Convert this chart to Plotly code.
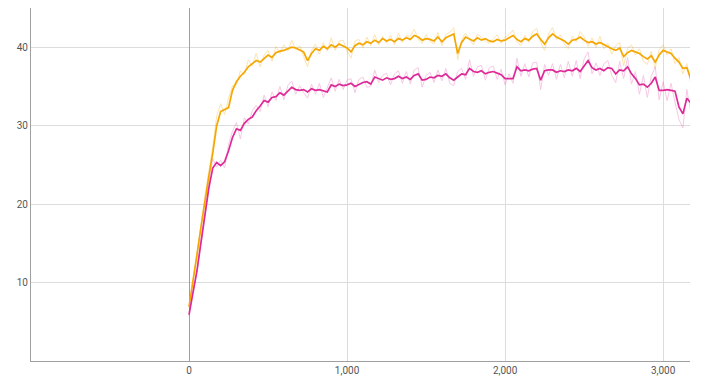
import plotly.graph_objects as go

steps = list(range(0, 3200, 25))

orange_smooth = [
    6.9, 10.0, 13.5, 17.0, 20.5, 23.5, 26.5, 30.0, 31.8, 32.0,
    32.3, 34.5, 35.6, 36.3, 36.8, 37.5, 37.9, 38.3, 38.1, 38.6,
    39.0, 38.7, 39.3, 39.5, 39.6, 39.8, 40.0, 39.9, 39.6, 39.4,
    38.3, 39.2, 39.8, 39.6, 40.1, 39.8, 40.3, 40.0, 40.4, 40.2,
    39.9, 39.4, 40.2, 40.5, 40.3, 40.7, 40.5, 40.9, 40.6, 41.1,
    40.8, 41.0, 40.7, 41.1, 40.9, 41.2, 41.0, 41.5, 41.3, 40.9,
    41.1, 41.0, 40.8, 41.3, 40.7, 41.2, 41.4, 41.7, 39.2, 40.6,
    41.3, 41.1, 40.8, 41.2, 40.9, 41.1, 40.8, 40.7, 41.0, 40.8,
    40.9, 41.2, 41.5, 41.0, 40.7, 41.1, 40.9, 41.4, 41.7, 41.0,
    40.4, 41.2, 41.7, 41.3, 41.1, 40.8, 40.4, 40.9, 41.0, 41.3,
    40.9, 40.6, 40.7, 40.4, 40.6, 40.3, 40.0, 39.8, 39.6, 39.9,
    38.8, 39.3, 39.6, 39.4, 39.2, 38.8, 38.5, 38.9, 38.1, 39.0,
    39.6, 39.4, 39.2, 38.6, 38.1, 37.3, 37.4, 36.0,
]

orange_raw = [
    7.0, 10.3, 13.9, 17.2, 21.0, 24.1, 27.3, 31.2, 32.8, 31.4,
    33.5, 35.1, 35.2, 37.0, 36.5, 38.4, 37.6, 39.2, 37.5, 39.0,
    39.6, 38.2, 40.1, 39.2, 40.3, 39.5, 40.9, 39.7, 40.2, 38.8,
    37.5, 39.6, 40.4, 39.1, 40.6, 39.5, 41.2, 39.6, 40.8, 40.9,
    39.5, 38.6, 40.8, 41.0, 39.9, 41.3, 40.2, 41.6, 40.3, 41.4,
    40.5, 41.5, 40.3, 41.8, 40.6, 41.5, 41.4, 42.3, 41.0, 40.5,
    41.6, 40.7, 40.4, 41.9, 40.2, 41.6, 41.9, 42.5, 38.4, 41.0,
    41.8, 40.9, 40.3, 41.7, 41.2, 40.8, 40.5, 41.1, 41.6, 40.5,
    41.3, 41.6, 42.2, 40.7, 40.2, 41.5, 40.6, 42.0, 42.4, 40.6,
    39.6, 41.7, 42.5, 41.0, 41.6, 40.4, 39.8, 41.4, 40.7, 42.0,
    41.3, 40.1, 41.2, 40.0, 41.4, 39.8, 40.5, 39.1, 40.2, 40.6,
    37.6, 39.9, 40.3, 39.0, 39.8, 38.2, 37.8, 39.5, 37.3, 39.7,
    40.3, 39.0, 39.8, 37.9, 38.7, 36.6, 37.9, 35.3,
]

magenta_smooth = [
    5.9, 8.5, 11.5, 15.0, 18.5, 22.0, 24.6, 25.3, 24.9, 25.4,
    26.8, 28.5, 29.6, 29.4, 30.3, 30.8, 31.1, 31.9, 32.5, 33.2,
    33.0, 33.6, 33.7, 34.2, 33.9, 34.4, 34.9, 34.6, 34.5, 34.6,
    34.3, 34.7, 34.5, 34.6, 34.4, 34.3, 35.2, 35.0, 35.3, 35.1,
    35.2, 35.4, 35.0, 35.3, 35.5, 35.6, 35.3, 36.2, 36.0, 35.8,
    36.1, 35.9, 36.0, 36.3, 36.0, 36.2, 35.9, 36.4, 36.6, 35.8,
    35.9, 36.2, 36.1, 36.4, 36.3, 36.6, 36.1, 35.8, 36.2, 36.6,
    36.5, 37.3, 36.9, 36.8, 37.0, 36.6, 36.8, 36.9, 36.7, 36.5,
    36.0, 36.0, 36.0, 37.5, 37.0, 37.1, 37.0, 37.2, 37.3, 35.8,
    37.0, 37.1, 37.1, 36.8, 37.0, 36.9, 37.1, 37.0, 37.3, 36.9,
    37.6, 38.3, 37.4, 37.1, 37.3, 37.0, 37.4, 37.3, 36.6, 37.1,
    37.0, 37.5, 36.6, 36.0, 35.2, 35.3, 34.9, 35.4, 36.2, 34.5,
    34.5, 34.6, 34.5, 34.4, 32.4, 31.5, 33.5, 32.9,
]

magenta_raw = [
    5.7, 8.9, 11.2, 15.5, 18.9, 22.9, 25.8, 24.7, 25.6, 24.6,
    27.6, 29.3, 30.4, 28.3, 31.0, 30.2, 31.9, 32.6, 31.8, 33.9,
    32.4, 34.3, 33.2, 35.0, 33.3, 35.1, 35.7, 34.0, 35.1, 34.2,
    33.5, 35.3, 34.0, 35.4, 33.6, 34.8, 36.1, 34.4, 35.9, 34.6,
    35.8, 36.0, 34.2, 35.9, 36.2, 34.9, 35.0, 37.1, 35.5, 36.4,
    36.7, 35.2, 36.6, 37.0, 35.4, 36.9, 35.3, 37.1, 37.4, 34.9,
    36.4, 36.8, 35.5, 37.1, 35.7, 37.3, 35.4, 35.1, 36.9, 37.3,
    35.9, 38.4, 36.3, 37.5, 37.7, 35.8, 37.4, 37.6, 35.9, 37.2,
    35.2, 36.6, 35.4, 38.6, 36.3, 37.9, 36.2, 38.0, 38.1, 34.6,
    37.8, 36.4, 37.9, 35.9, 37.8, 36.1, 38.2, 36.3, 38.3, 36.0,
    38.5, 39.4, 36.6, 38.0, 36.4, 37.9, 38.3, 36.4, 35.5, 38.2,
    36.0, 38.7, 35.3, 36.9, 34.0, 36.4, 33.6, 36.3, 37.5, 33.3,
    35.6, 33.2, 35.4, 33.0, 30.8, 29.7, 34.6, 31.8,
]

x_tickvals = [0, 1000, 2000, 3000]
x_ticktext = ["0", "1,000", "2,000", "3,000"]
y_tickvals = [10, 20, 30, 40]

ORANGE = "#f5a700"
MAGENTA = "#de2a98"

fig = go.Figure()
fig.add_trace(go.Scatter(x=steps, y=orange_raw, mode="lines",
                         line=dict(color=ORANGE, width=1), opacity=0.3,
                         hoverinfo="skip", showlegend=False))
fig.add_trace(go.Scatter(x=steps, y=magenta_raw, mode="lines",
                         line=dict(color=MAGENTA, width=1), opacity=0.25,
                         hoverinfo="skip", showlegend=False))
fig.add_trace(go.Scatter(x=steps, y=orange_smooth, mode="lines",
                         line=dict(color=ORANGE, width=1.7), showlegend=False))
fig.add_trace(go.Scatter(x=steps, y=magenta_smooth, mode="lines",
                         line=dict(color=MAGENTA, width=1.7), showlegend=False))

# page body adds an 8px offset; figure sized to fill the rest of the window
fig.update_layout(
    width=694, height=368,
    margin=dict(l=23, r=12, t=0, b=15, autoexpand=False),
    paper_bgcolor="white", plot_bgcolor="white",
    font=dict(family="Roboto, 'Open Sans', sans-serif", size=10, color="#555555"),
    showlegend=False,
)
fig.update_xaxes(
    range=[-1000, 3170], tickvals=x_tickvals, ticktext=x_ticktext,
    showgrid=True, gridcolor="#dcdcdc", gridwidth=1,
    zeroline=True, zerolinecolor="#a0a0a0", zerolinewidth=1,
    showline=True, linecolor="#a0a0a0", linewidth=1,
    ticks="", ticklen=0, automargin=False,
)
fig.update_yaxes(
    range=[0, 45], tickvals=y_tickvals,
    showgrid=True, gridcolor="#dcdcdc", gridwidth=1,
    zeroline=False,
    showline=True, linecolor="#a0a0a0", linewidth=1,
    ticks="", ticklen=0, automargin=False,
)

fig.write_html("out.html")
